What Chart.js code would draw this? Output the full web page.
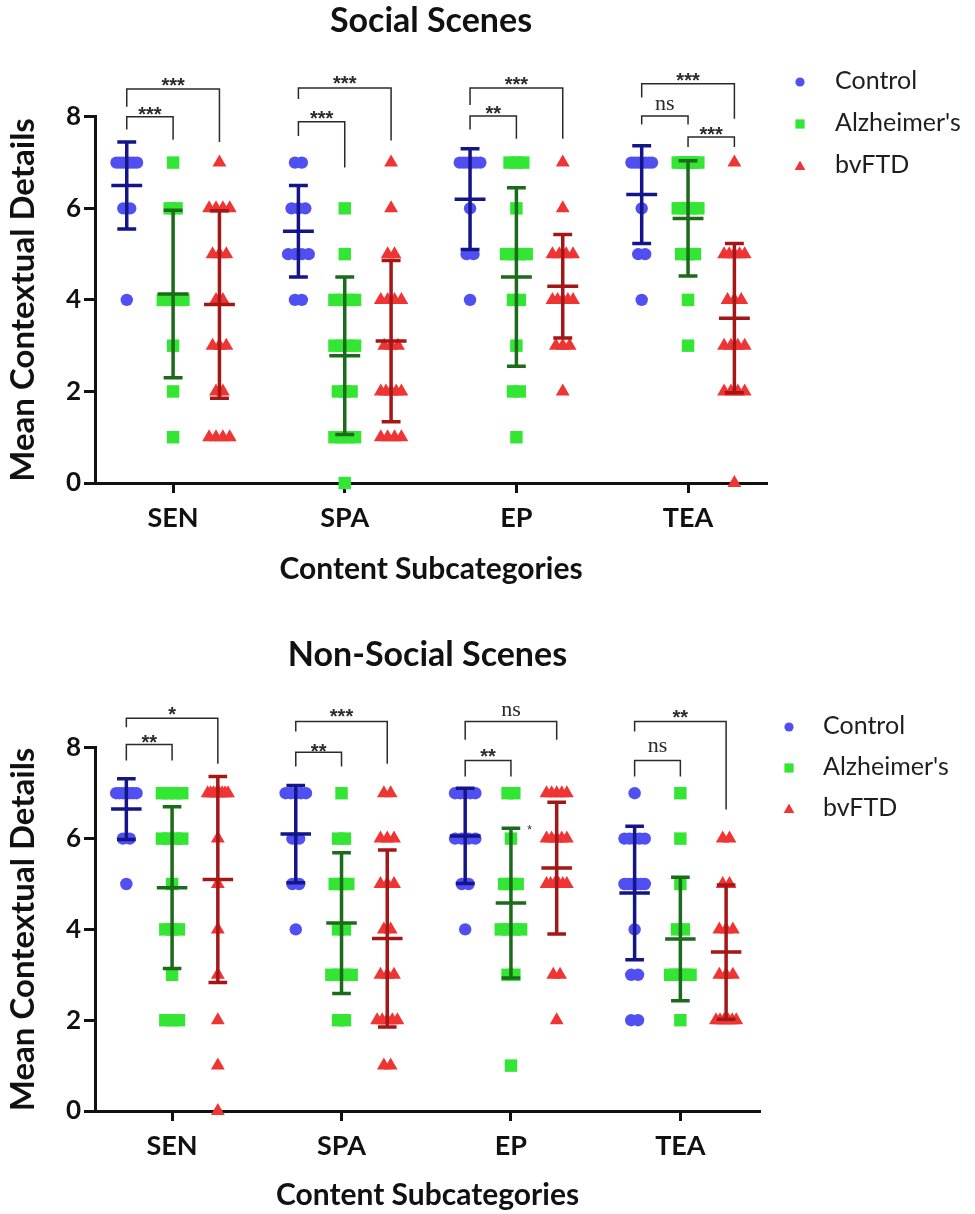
<!DOCTYPE html>
<html lang="en">
<head>
<meta charset="UTF-8">
<title>Mean Contextual Details - Social and Non-Social Scenes</title>
<script src="https://cdn.jsdelivr.net/npm/chart.js@4"></script>
<style>
  body { margin: 0; background: #fff; }
  canvas { display: block; }
</style>
</head>
<body>
<canvas id="socialChart" width="975" height="600"></canvas>
<canvas id="nonSocialChart" width="975" height="614"></canvas>
<script>
const categories = ["SEN", "SPA", "EP", "TEA"];
const groups = ["Control", "Alzheimer's", "bvFTD"];
const yTicks = [0, 2, 4, 6, 8];

// Social scenes, individual scores per subcategory (SEN, SPA, EP, TEA)
const socialControl = [
  [7, 7, 7, 7, 7, 7, 7, 6, 6, 4],
  [7, 7, 6, 6, 6, 5, 5, 5, 5, 4, 4],
  [7, 7, 7, 7, 7, 7, 6, 5, 5, 4],
  [7, 7, 7, 7, 7, 7, 7, 6, 5, 5, 4]
];
const socialAlz = [
  [7, 6, 6, 4, 4, 4, 4, 3, 2, 1],
  [6, 5, 4, 4, 4, 4, 3, 3, 3, 3, 2, 2, 2, 1, 1, 1, 1, 0],
  [7, 7, 7, 6, 5, 5, 5, 5, 4, 4, 3, 2, 2, 1],
  [7, 7, 7, 7, 7, 7, 6, 6, 6, 6, 5, 5, 5, 4, 3]
];
const socialFtd = [
  [7, 6, 6, 6, 6, 5, 5, 5, 4, 4, 3, 3, 3, 2, 2, 1, 1, 1, 1],
  [7, 6, 5, 5, 4, 4, 4, 4, 3, 3, 3, 2, 2, 2, 2, 2, 1, 1, 1, 1],
  [7, 6, 5, 5, 5, 5, 4, 4, 4, 4, 4, 3, 3, 3, 2],
  [7, 5, 5, 5, 5, 5, 4, 4, 4, 3, 3, 3, 3, 2, 2, 2, 2, 0]
];
const socialControlMean = [6.5, 5.5, 6.2, 6.3];
const socialControlSD = [0.95, 1.0, 1.1, 1.07];
const socialAlzMean = [4.13, 2.78, 4.5, 5.78];
const socialAlzSD = [1.83, 1.72, 1.95, 1.26];
const socialFtdMean = [3.9, 3.1, 4.3, 3.6];
const socialFtdSD = [2.05, 1.76, 1.13, 1.63];

// Non-social scenes
const nonSocialControl = [
  [7, 7, 7, 7, 7, 7, 7, 6, 6, 5],
  [7, 7, 7, 7, 7, 6, 6, 5, 5, 4],
  [7, 7, 7, 7, 7, 6, 6, 6, 6, 5, 5, 4],
  [7, 6, 6, 6, 6, 6, 5, 5, 5, 5, 5, 5, 4, 3, 3, 2, 2]
];
const nonSocialAlz = [
  [7, 7, 7, 7, 6, 6, 6, 6, 5, 4, 4, 4, 3, 2, 2, 2],
  [7, 6, 6, 5, 5, 5, 4, 4, 3, 3, 3, 3, 2, 2],
  [7, 7, 6, 5, 5, 5, 4, 4, 4, 4, 3, 3, 1],
  [7, 6, 5, 4, 4, 3, 3, 3, 3, 3, 2]
];
const nonSocialFtd = [
  [7, 7, 7, 7, 7, 7, 7, 7, 6, 5, 4, 3, 2, 1, 0],
  [7, 7, 6, 6, 6, 5, 5, 5, 4, 4, 3, 3, 3, 2, 2, 2, 2, 2, 1, 1],
  [7, 7, 7, 7, 7, 6, 6, 6, 6, 6, 5, 5, 5, 5, 5, 5, 3, 3, 2],
  [6, 6, 5, 5, 4, 4, 4, 3, 3, 3, 2, 2, 2, 2, 2, 2]
];
const nonSocialControlMean = [6.65, 6.1, 6.06, 4.8];
const nonSocialControlSD = [0.67, 1.07, 1.05, 1.47];
const nonSocialAlzMean = [4.92, 4.14, 4.58, 3.79];
const nonSocialAlzSD = [1.78, 1.55, 1.65, 1.36];
const nonSocialFtdMean = [5.1, 3.8, 5.35, 3.5];
const nonSocialFtdSD = [2.27, 1.95, 1.45, 1.48];

// significance brackets: [category, group A, group B, top, left end, right end, label, label y]
const socialBrackets = [
  [0, 0, 2, 8.61, 8.22, 7.45, "***", 8.81],
  [0, 0, 1, 8.0, 7.72, 7.5, "***", 8.16],
  [1, 0, 2, 8.63, 8.39, 7.48, "***", 8.85],
  [1, 0, 1, 7.89, 7.58, 6.89, "***", 8.08],
  [2, 0, 2, 8.63, 8.26, 7.52, "***", 8.83],
  [2, 0, 1, 8.02, 7.72, 7.52, "**", 8.2],
  [3, 0, 2, 8.72, 8.42, 7.96, "***", 8.92],
  [3, 0, 1, 8.02, 7.83, 7.83, "ns", 8.26],
  [3, 1, 2, 7.56, 7.34, 7.34, "***", 7.73]
];
const nonSocialBrackets = [
  [0, 0, 2, 8.65, 8.45, 7.65, "*", 8.85],
  [0, 0, 1, 8.07, 7.72, 7.72, "**", 8.23],
  [1, 0, 2, 8.58, 8.36, 7.65, "***", 8.8],
  [1, 0, 1, 7.9, 7.59, 7.59, "**", 8.04],
  [2, 0, 2, 8.58, 8.18, 8.18, "ns", 8.82],
  [2, 0, 1, 7.72, 7.37, 7.37, "**", 7.93],
  [3, 0, 2, 8.58, 8.36, 6.64, "**", 8.78],
  [3, 0, 1, 7.72, 7.37, 7.37, "ns", 8.01]
];
const nonSocialStray = [[3.11, 6.24, "*"]];

const groupOffsets = [-0.27, 0, 0.27];
const pointColors = ["#4f4ff2", "#33e633", "#ef3434"];
const barColors = ["#15158a", "#1b6b1b", "#a51616"];
const pointStyles = ["circle", "rect", "triangle"];
const pointSizes = [6.2, 8.8, 8];
const FONT = "Lato, 'Open Sans', sans-serif";

// spread duplicate scores sideways, like a column scatter
function spreadPoints(valuesByCat, g) {
  const pts = [];
  valuesByCat.forEach((vals, c) => {
    const counts = {};
    vals.forEach(v => { counts[v] = (counts[v] || 0) + 1; });
    Object.keys(counts).forEach(key => {
      const k = counts[key];
      const step = k > 1 ? Math.min(0.04, 0.12 / (k - 1)) : 0;
      for (let j = 0; j < k; j++) {
        pts.push({ x: c + 1 + groupOffsets[g] + (j - (k - 1) / 2) * step, y: Number(key) });
      }
    });
  });
  return pts;
}

// mean line + SD whisker segments, broken with null y
function errorBars(means, sds, g) {
  const pts = [];
  means.forEach((m, c) => {
    const x = c + 1 + groupOffsets[g];
    const hi = m + sds[c], lo = m - sds[c];
    pts.push({ x: x - 0.09, y: m }, { x: x + 0.09, y: m }, { x: x, y: null });
    pts.push({ x: x, y: lo }, { x: x, y: hi }, { x: x, y: null });
    pts.push({ x: x - 0.055, y: hi }, { x: x + 0.055, y: hi }, { x: x, y: null });
    pts.push({ x: x - 0.055, y: lo }, { x: x + 0.055, y: lo }, { x: x, y: null });
  });
  return pts;
}

function drawMarker(ctx, style, x, y, r) {
  ctx.beginPath();
  if (style === "circle") {
    ctx.arc(x, y, r, 0, Math.PI * 2);
  } else if (style === "rect") {
    ctx.rect(x - r, y - r, 2 * r, 2 * r);
  } else {
    ctx.moveTo(x, y - r);
    ctx.lineTo(x + r * 0.95, y + r * 0.7);
    ctx.lineTo(x - r * 0.95, y + r * 0.7);
    ctx.closePath();
  }
  ctx.fill();
}

function annotations(brackets, stray, legend) {
  return {
    id: "annotations",
    afterDatasetsDraw(chart) {
      const { ctx } = chart;
      const xs = chart.scales.x, ys = chart.scales.y;
      ctx.save();
      ctx.strokeStyle = "#2a2a2a";
      ctx.lineWidth = 1.5;
      ctx.fillStyle = "#2a2a2a";
      ctx.textAlign = "center";
      ctx.textBaseline = "alphabetic";
      brackets.forEach(([c, a, b, top, le, re, label, ly]) => {
        const x1 = xs.getPixelForValue(c + 1 + groupOffsets[a]);
        const x2 = xs.getPixelForValue(c + 1 + groupOffsets[b]);
        ctx.beginPath();
        ctx.moveTo(x1, ys.getPixelForValue(le));
        ctx.lineTo(x1, ys.getPixelForValue(top));
        ctx.lineTo(x2, ys.getPixelForValue(top));
        ctx.lineTo(x2, ys.getPixelForValue(re));
        ctx.stroke();
        const py = ys.getPixelForValue(ly);
        if (label === "ns") {
          ctx.font = "22px 'Liberation Serif', serif";
          ctx.fillText(label, (x1 + x2) / 2, py + 5);
        } else {
          ctx.font = "bold 20px 'Liberation Sans', sans-serif";
          ctx.fillText(label, (x1 + x2) / 2, py + 12);
        }
      });
      stray.forEach(([sx, sy, t]) => {
        ctx.font = "12px 'Liberation Sans', sans-serif";
        ctx.fillText(t, xs.getPixelForValue(sx), ys.getPixelForValue(sy) + 6);
      });
      // legend
      ctx.textAlign = "left";
      ctx.textBaseline = "middle";
      ctx.font = "25px " + FONT;
      groups.forEach((name, i) => {
        const yy = legend.y + i * legend.gap;
        ctx.fillStyle = pointColors[i];
        drawMarker(ctx, pointStyles[i], legend.x, yy, [4.6, 4.6, 5.6][i]);
        ctx.fillStyle = "#1e1e1e";
        ctx.fillText(name, legend.text, yy - 1);
      });
      ctx.restore();
    }
  };
}

function makeChart(id, title, sets, brackets, stray, lay) {
  const datasets = [];
  sets.forEach((s, g) => {
    datasets.push({
      label: groups[g] + " SD",
      data: errorBars(s.mean, s.sd, g),
      showLine: true,
      borderColor: barColors[g],
      borderWidth: 3.5,
      pointRadius: 0,
      spanGaps: false,
      order: 0
    });
  });
  sets.forEach((s, g) => {
    datasets.push({
      label: groups[g],
      data: spreadPoints(s.values, g),
      pointStyle: pointStyles[g],
      pointRadius: pointSizes[g],
      backgroundColor: pointColors[g],
      borderColor: pointColors[g],
      borderWidth: 0,
      order: 1
    });
  });
  return new Chart(document.getElementById(id), {
    type: "scatter",
    data: { datasets },
    options: {
      responsive: false,
      animation: false,
      events: [],
      clip: false,
      layout: { padding: { left: 0, top: 0, right: lay.padRight, bottom: lay.padBottom } },
      plugins: {
        legend: { display: false },
        tooltip: { enabled: false },
        title: {
          display: true,
          text: title,
          fullSize: false,
          color: "#111",
          font: { family: FONT, size: 34, weight: "bold", lineHeight: 1.2 },
          padding: lay.titlePad
        }
      },
      scales: {
        x: {
          type: "linear",
          min: 0.545,
          max: lay.xMax,
          afterFit: s => { s.height = lay.xh; },
          afterBuildTicks: s => { s.ticks = categories.map((c, i) => ({ value: i + 1 })); },
          ticks: {
            callback: v => categories[v - 1],
            color: "#111",
            padding: 9,
            font: { family: FONT, size: 27, weight: "bold" }
          },
          grid: { drawOnChartArea: false, drawTicks: true, tickLength: 10, tickWidth: 3, tickColor: "#111" },
          border: { display: true, color: "#111", width: 3 },
          title: {
            display: true,
            text: "Content Subcategories",
            color: "#111",
            padding: 0,
            font: { family: FONT, size: 30, weight: "bold", lineHeight: 1.2 }
          }
        },
        y: {
          min: 0,
          max: 8,
          afterFit: s => { s.width = 95; },
          afterBuildTicks: s => { s.ticks = yTicks.map(v => ({ value: v })); },
          ticks: {
            color: "#111",
            padding: 3,
            font: { family: FONT, size: 26, weight: "bold" }
          },
          grid: { drawOnChartArea: false, drawTicks: true, tickLength: 11, tickWidth: 3, tickColor: "#111" },
          border: { display: true, color: "#111", width: 3 },
          title: {
            display: true,
            text: "Mean Contextual Details",
            color: "#111",
            padding: { top: 4, bottom: 4 },
            font: { family: FONT, size: 33, weight: "bold", lineHeight: 1.2 }
          }
        }
      }
    },
    plugins: [annotations(brackets, stray, lay.legend)]
  });
}

makeChart("socialChart", "Social Scenes", [
  { values: socialControl, mean: socialControlMean, sd: socialControlSD },
  { values: socialAlz, mean: socialAlzMean, sd: socialAlzSD },
  { values: socialFtd, mean: socialFtdMean, sd: socialFtdSD }
], socialBrackets, [], {
  padRight: 208, padBottom: 13, xh: 104, xMax: 4.46,
  titlePad: { top: 1, bottom: 75 },
  legend: { x: 800, y: 82, gap: 42, text: 835 }
});

makeChart("nonSocialChart", "Non-Social Scenes", [
  { values: nonSocialControl, mean: nonSocialControlMean, sd: nonSocialControlSD },
  { values: nonSocialAlz, mean: nonSocialAlzMean, sd: nonSocialAlzSD },
  { values: nonSocialFtd, mean: nonSocialFtdMean, sd: nonSocialFtdSD }
], nonSocialBrackets, nonSocialStray, {
  padRight: 215, padBottom: 1, xh: 102, xMax: 4.47,
  titlePad: { top: 35, bottom: 72 },
  legend: { x: 789, y: 127, gap: 41, text: 823 }
});
</script>
</body>
</html>
